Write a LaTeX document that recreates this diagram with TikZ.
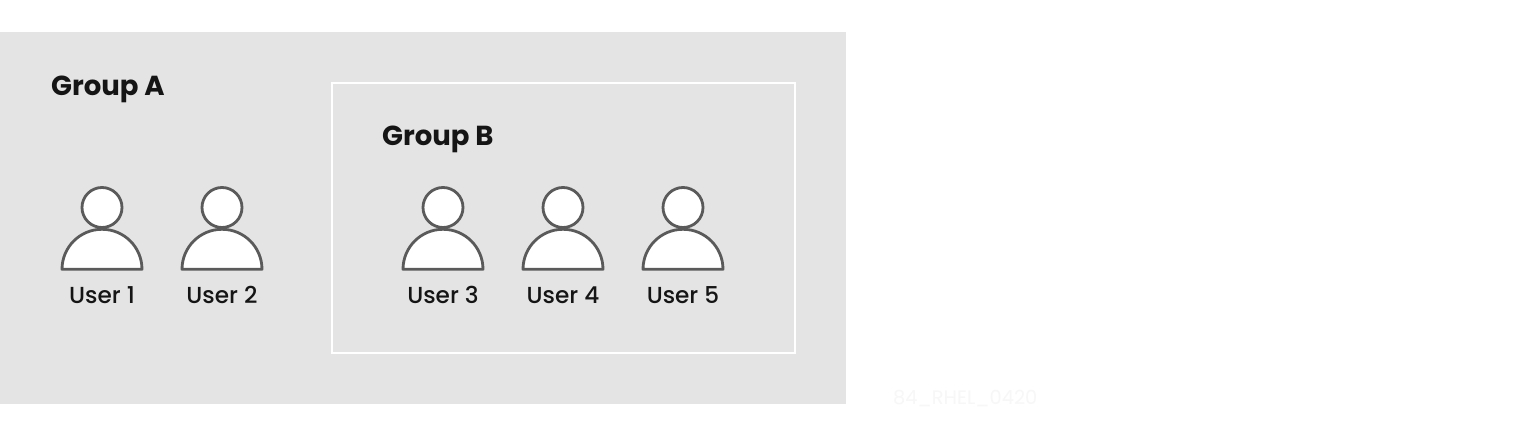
\documentclass[tikz,border=0pt]{standalone}
\usepackage{fontspec}
\setmainfont{Poppins}
\newfontfamily\usermedium{Poppins Medium}
\definecolor{panel}{HTML}{E4E4E4}
\definecolor{iconline}{HTML}{5A5A5A}
\definecolor{ink}{HTML}{151515}
\definecolor{faint}{HTML}{F7F7F7}
\tikzset{
  grouplabel/.style={anchor=base west,inner sep=0pt,text=ink,font=\fontsize{27.5}{30}\selectfont\bfseries},
  userlabel/.style={anchor=base,inner sep=0pt,text=ink,font=\fontsize{23.2}{26}\usermedium\selectfont},
  iconpart/.style={draw=iconline,fill=white,line width=2.8pt,line join=round},
  pics/usericon/.style={code={
    \draw[iconpart] (-40,61.8) arc[start angle=180,end angle=360,radius=40] -- cycle;
    \draw[iconpart] (0,0) circle[radius=20];
  }}
}
\begin{document}
\begin{tikzpicture}[x=1pt,y=-1pt]
\useasboundingbox (0,0) rectangle (1520,438);
\fill[white] (0,0) rectangle (1520,438);
\fill[panel] (0,32) rectangle (846,404);
\draw[white,line width=2pt] (332,83) rectangle (795,352.5);
\node[grouplabel] (ga) at (51,96) {Group A};
\node[grouplabel] (gb) at (382,146) {Group B};
\pic at (102,207.5) {usericon};
\pic at (222,207.5) {usericon};
\pic at (443,207.5) {usericon};
\pic at (563,207.5) {usericon};
\pic at (683,207.5) {usericon};
\node[userlabel] (u1) at (102,303) {User 1};
\node[userlabel] (u2) at (222,303) {User 2};
\node[userlabel] (u3) at (443,303) {User 3};
\node[userlabel] (u4) at (563,303) {User 4};
\node[userlabel] (u5) at (683,303) {User 5};
\node[anchor=base west,inner sep=0pt,text=faint,font=\fontsize{19.4}{23}\selectfont] (code) at (893,404) {84\_RHEL\_0420};
\end{tikzpicture}
\end{document}
